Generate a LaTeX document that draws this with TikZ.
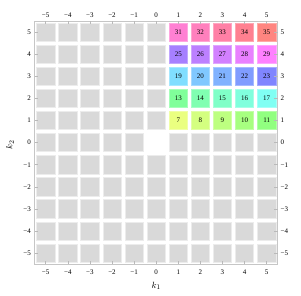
\documentclass[tikz,border=0pt]{standalone}
\usepackage{fontspec}
\setmainfont{Liberation Serif}
\begin{document}
\begin{tikzpicture}[x=1pt,y=1pt,
  cell/.style={fill=gray!30, draw=gray!15, line width=0.5pt},
  framestyle/.style={draw=gray!45, line width=1pt},
  tickstyle/.style={draw=gray!55, line width=0.5pt},
  lab/.style={font=\fontsize{7}{8}\selectfont, inner sep=0pt},
  axlab/.style={font=\fontsize{9.5}{10}\selectfont, inner sep=0pt}]
\useasboundingbox (0,0) rectangle (301,296);
\def\ox{156.2}\def\oy{153.4}\def\s{22.1}\def\h{9.15}
% gray cells
\foreach \i in {-5,...,5}{
  \foreach \j in {-5,...,5}{
    \pgfmathtruncatemacro\skip{(\i==0)&&(\j==0)}
    \ifnum\skip=0
      \fill[cell] ({\ox+\s*\i-\h},{\oy+\s*\j-\h}) rectangle ({\ox+\s*\i+\h},{\oy+\s*\j+\h});
    \fi
  }}
% coloured cells
\foreach \i in {1,...,5}{
  \foreach \j in {1,...,5}{
    \pgfmathtruncatemacro\n{6*\j+\i}
    \pgfmathsetmacro\hue{mod(70+10.45*(\n-7),360)/360}
    \convertcolorspec{hsb}{\hue,0.5,1}{rgb}\rgbspec
    \definecolor{cc}{rgb}{\rgbspec}
    \fill[fill=cc, draw=cc!70!white, line width=0.5pt] ({\ox+\s*\i-\h},{\oy+\s*\j-\h}) rectangle ({\ox+\s*\i+\h},{\oy+\s*\j+\h});
    \node[lab] (n\n) at ({\ox+\s*\i},{\oy+\s*\j}) {\n};
  }}
% frame
\draw[framestyle] (34.65,31.85) rectangle (277.75,274.95);
% ticks and labels
\foreach \k in {-5,...,5}{
  \pgfmathsetmacro\px{\ox+\s*\k}
  \pgfmathsetmacro\py{\oy+\s*\k}
  \draw[tickstyle] (\px,274.95) -- (\px,271.5);
  \draw[tickstyle] (\px,31.85) -- (\px,35.3);
  \draw[tickstyle] (34.65,\py) -- (38.1,\py);
  \draw[tickstyle] (277.75,\py) -- (274.3,\py);
  \ifnum\k<0
    \node[lab] at (\px,281) {−\the\numexpr-\k\relax};
    \node[lab] at (\px,24) {−\the\numexpr-\k\relax};
    \node[lab, anchor=east] at (31,\py) {−\the\numexpr-\k\relax};
    \node[lab, anchor=west] at (280.5,\py) {−\the\numexpr-\k\relax};
  \else
    \node[lab] at (\px,281) {\k};
    \node[lab] at (\px,24) {\k};
    \node[lab, anchor=east] at (31,\py) {\k};
    \node[lab, anchor=west] at (280.5,\py) {\k};
  \fi
}
\node[axlab] (k1) at (156.2,10) {$k_1$};
\node[axlab, rotate=90] (k2) at (10,151) {$k_2$};
\end{tikzpicture}
\end{document}
